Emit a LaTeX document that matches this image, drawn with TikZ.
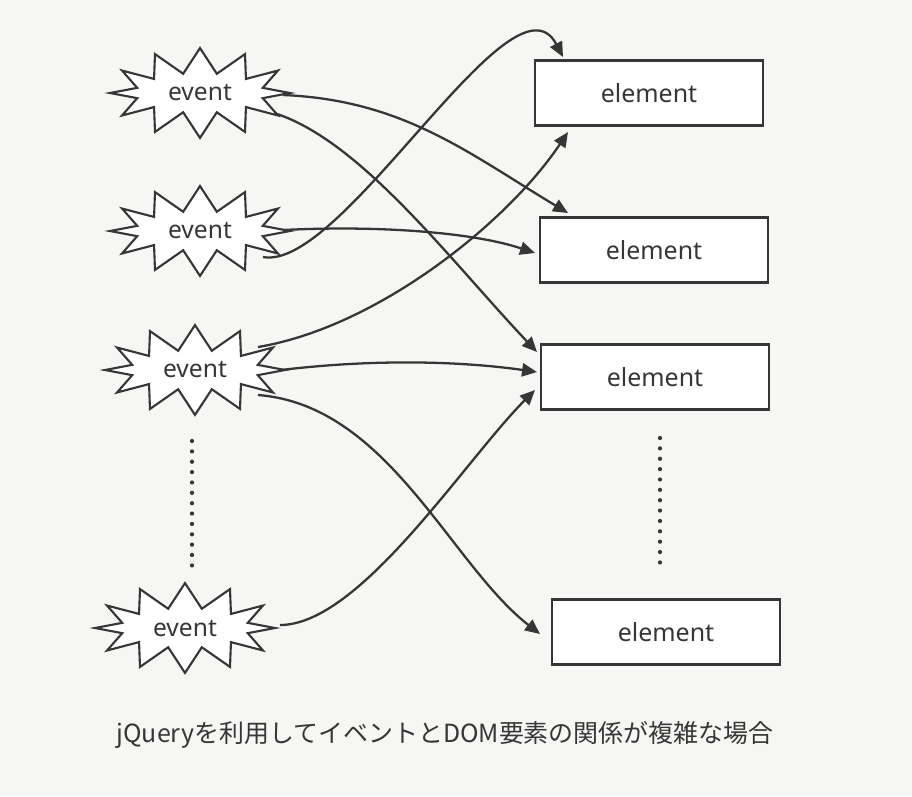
\documentclass[tikz,border=0pt]{standalone}
\usepackage{fontspec}
\setmainfont{Noto Sans}
\newfontfamily\jpfont{Noto Sans CJK JP}
\usetikzlibrary{arrows.meta,shapes.symbols,backgrounds}
\definecolor{ink}{HTML}{363636}
\definecolor{paper}{HTML}{F6F6F4}
\tikzstyle{event}=[
	starburst,
	starburst points=12,
	starburst point height=0.5cm,
	random starburst=0,
	minimum width=3.6cm,
	minimum height=1.45cm,
	draw=ink,
	fill=white,
	line width=1.2pt,
	text=ink,
	font=\fontsize{14}{16}\selectfont
]
\tikzstyle{element}=[
	rectangle,
	draw=ink,
	fill=white,
	line width=1.3pt,
	minimum width=4.56cm,
	minimum height=1.3cm,
	text=ink,
	font=\fontsize{14.2}{17}\selectfont
]
\tikzstyle{relation}=[
	-{Triangle[length=8.5pt,width=7.5pt]},
	line width=1.3pt,
	draw=ink
]
\tikzstyle{omission}=[
	draw=ink,
	line width=2.4pt,
	line cap=round,
	dash pattern=on 0pt off 5.9pt
]

\begin{document}
\begin{tikzpicture}[x=0.02cm,y=-0.02cm]
\useasboundingbox (0,0) rectangle (912,796);
\node [event] (Event1) at (200,93) {event};
\node [event] (Event2) at (200,231) {event};
\node [event] (Event3) at (195,370) {event};
\node [event] (Event4) at (185,628) {event};
\node [element] (Element1) at (649,93) {element};
\node [element] (Element2) at (654,250) {element};
\node [element] (Element3) at (655,377) {element};
\node [element] (Element4) at (666,632) {element};
\coordinate (GapLeftTop) at (192,441);
\coordinate (GapLeftBottom) at (192,566);
\coordinate (GapRightTop) at (660,438);
\coordinate (GapRightBottom) at (660,563);
\draw [omission] (GapLeftTop) -- (GapLeftBottom);
\draw [omission] (GapRightTop) -- (GapRightBottom);
\node [font=\jpfont\fontsize{14.2}{17}\selectfont, text=ink] (Caption) at (445,735) {jQueryを利用してイベントとDOM要素の関係が複雑な場合};
\begin{scope}[on background layer]
\fill [paper] (0,0) rectangle (912,796);
\draw [relation] ([shift={(83,2)}]Event1.center) .. controls +(120,5) and +(-100,-60) .. ([shift={(-86,-37)}]Element2.center);
\draw [relation] ([shift={(63,17)}]Event1.center) .. controls +(90,20) and +(-90,-95) .. ([shift={(-118,-25)}]Element3.center);
\draw [relation] ([shift={(63,26)}]Event2.center) .. controls +(80,15) and +(-50,-95) .. ([shift={(-86,-36)}]Element1.center);
\draw [relation] ([shift={(83,-1)}]Event2.center) .. controls +(100,-5) and +(-60,-20) .. ([shift={(-119,3)}]Element2.center);
\draw [relation] ([shift={(63,-23)}]Event3.center) .. controls +(120,-20) and +(-60,90) .. ([shift={(-81,39)}]Element1.center);
\draw [relation] ([shift={(86,0)}]Event3.center) .. controls +(100,-12) and +(-70,-10) .. ([shift={(-118,-5)}]Element3.center);
\draw [relation] ([shift={(63,25)}]Event3.center) .. controls +(130,10) and +(-90,-70) .. ([shift={(-126,2)}]Element4.center);
\draw [relation] ([shift={(95,-3)}]Event4.center) .. controls +(80,0) and +(-70,70) .. ([shift={(-120,13)}]Element3.center);
\end{scope}
\end{tikzpicture}
\end{document}
